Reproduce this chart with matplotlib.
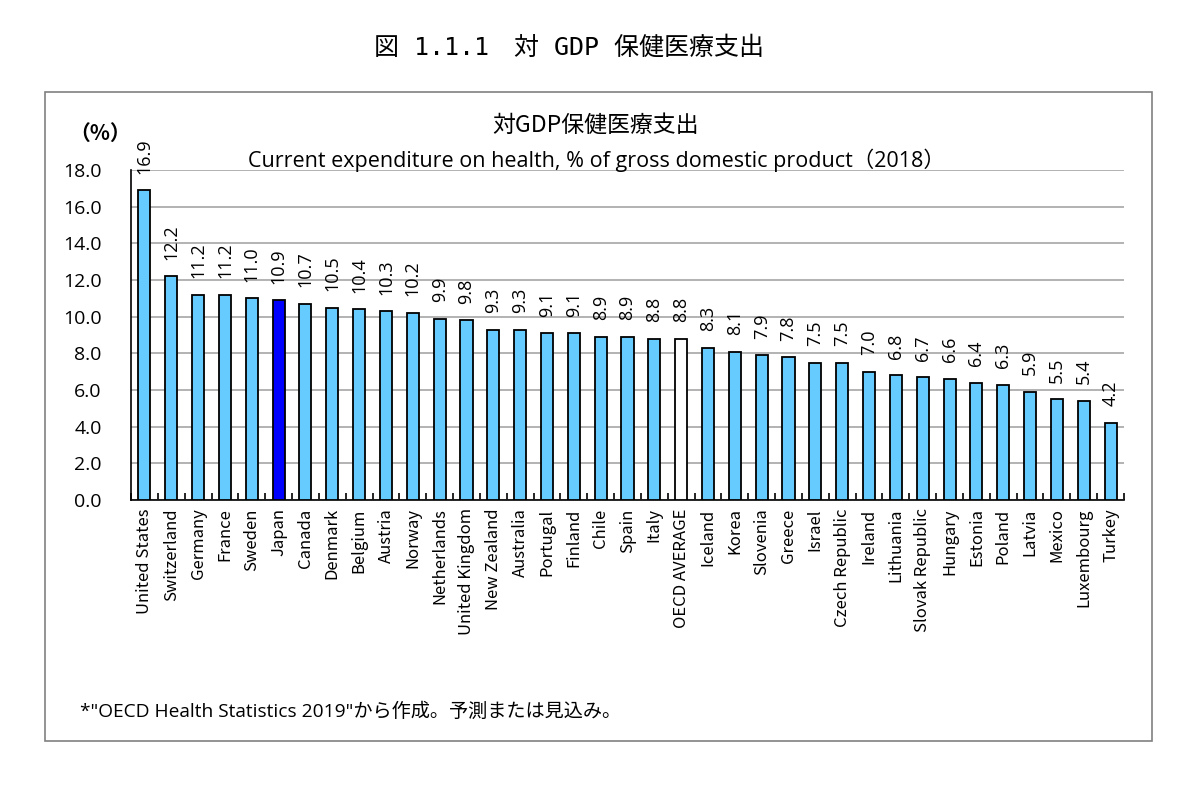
import matplotlib.pyplot as plt
import matplotlib.patches as patches
import numpy as np

plt.rcParams['font.family'] = ['Noto Sans CJK JP', 'DejaVu Sans']

countries = [
    "United States", "Switzerland", "Germany", "France", "Sweden", "Japan",
    "Canada", "Denmark", "Belgium", "Austria", "Norway", "Netherlands",
    "United Kingdom", "New Zealand", "Australia", "Portugal", "Finland",
    "Chile", "Spain", "Italy", "OECD AVERAGE", "Iceland", "Korea",
    "Slovenia", "Greece", "Israel", "Czech Republic", "Ireland", "Lithuania",
    "Slovak Republic", "Hungary", "Estonia", "Poland", "Latvia", "Mexico",
    "Luxembourg", "Turkey",
]
values = [
    16.9, 12.2, 11.2, 11.2, 11.0, 10.9, 10.7, 10.5, 10.4, 10.3, 10.2, 9.9,
    9.8, 9.3, 9.3, 9.1, 9.1, 8.9, 8.9, 8.8, 8.8, 8.3, 8.1, 7.9, 7.8, 7.5,
    7.5, 7.0, 6.8, 6.7, 6.6, 6.4, 6.3, 5.9, 5.5, 5.4, 4.2,
]
yticks = [0, 2, 4, 6, 8, 10, 12, 14, 16, 18]

latin = ['Open Sans', 'Noto Sans CJK JP']

colors = []
for c in countries:
    if c == "Japan":
        colors.append("#0000ff")
    elif c == "OECD AVERAGE":
        colors.append("#ffffff")
    else:
        colors.append("#66ccff")

fig = plt.figure(figsize=(12, 7.89), dpi=100)

# outer frame
fig.patches.append(patches.Rectangle((45 / 1200, 1 - 741 / 789), 1107 / 1200, 649 / 789,
                                     transform=fig.transFigure, fill=False,
                                     edgecolor="#808080", linewidth=1.2))

fig.text(569 / 1200, 1 - 48 / 789, "図 1.1.1　対 GDP 保健医療支出", ha="center", va="center",
         fontsize=18, family=['DejaVu Sans Mono', 'Noto Sans CJK JP'])

ax = fig.add_axes([131 / 1200, 1 - 500 / 789, (1124 - 131) / 1200, 330 / 789])

x = np.arange(len(countries))
ax.bar(x, values, width=0.45, color=colors, edgecolor="black", linewidth=1.3, zorder=3)

for xi, v in zip(x, values):
    ax.text(xi, v + 0.9, f"{v:.1f}", rotation=90, ha="center", va="bottom",
            fontsize=13, family=latin, zorder=4)

ax.set_xlim(-0.5, len(countries) - 0.5)
ax.set_ylim(0, 18)
ax.set_yticks(yticks)
ax.set_yticklabels([f"{t:.1f}" for t in yticks], fontsize=14, family=latin)
ax.yaxis.grid(True, color="#a6a6a6", linewidth=1.2, zorder=0)

ax.set_xticks(x)
ax.set_xticklabels(countries, rotation=90, fontsize=12)
ax.tick_params(axis="x", length=0, pad=6)
ax.set_xticks(np.arange(-0.5, len(countries), 1), minor=True)
ax.tick_params(axis="x", which="minor", length=5, direction="in", width=1.2)
ax.tick_params(axis="y", length=0, pad=21)

for s in ["top", "right"]:
    ax.spines[s].set_visible(False)
ax.spines["left"].set_linewidth(1.2)
ax.spines["bottom"].set_linewidth(1.2)

fig.text(100 / 1200, 1 - 133 / 789, "（%）", ha="center", va="center", fontsize=15,
         fontweight="bold")
fig.text(596 / 1200, 1 - 125 / 789, "対GDP保健医療支出", ha="center", va="center", fontsize=16.5)
fig.text(596 / 1200, 1 - 160 / 789,
         "Current expenditure on health, % of gross domestic product（2018）",
         ha="center", va="center", fontsize=15.5, family=latin)
fig.text(80 / 1200, 1 - 712 / 789,
         "*\"OECD Health Statistics 2019\"から作成。予測または見込み。",
         ha="left", va="center", fontsize=13.8, family=latin)

fig.savefig("out.png", dpi=100)
